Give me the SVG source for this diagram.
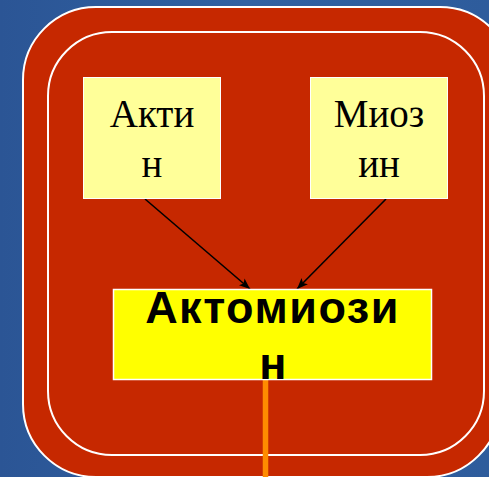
<svg xmlns="http://www.w3.org/2000/svg" width="489" height="477" viewBox="0 0 489 477">
  <defs>
    <linearGradient id="bg" x1="0" y1="0" x2="1" y2="0">
      <stop offset="0" stop-color="#2B5595"/>
      <stop offset="0.5" stop-color="#3061A2"/>
      <stop offset="1" stop-color="#2E5C9C"/>
    </linearGradient>
    <marker id="arrow" viewBox="0 0 11 9" refX="11" refY="4.5" markerWidth="11" markerHeight="9" markerUnits="userSpaceOnUse" orient="auto">
      <path d="M0,0 L11,4.5 L0,9 L2.5,4.5 Z" fill="#000"/>
    </marker>
    <style>
      .frame { fill: #C62800; stroke: #FFFFFF; stroke-width: 2; }
      .ring { fill: none; stroke: #FFFFFF; stroke-width: 2; }
      .src { fill: #FFFF99; stroke: #FFFFFF; stroke-width: 1; }
      .dst { fill: #FFFF00; stroke: #FFFFFF; stroke-width: 1.5; }
      .serif { font-family: "Liberation Serif", "Times New Roman", serif; font-size: 39px; fill: #000; text-anchor: middle; }
      .bold { font-family: "Liberation Sans", Arial, sans-serif; font-size: 45px; font-weight: bold; letter-spacing: 1.5px; fill: #000; text-anchor: middle; }
      .link { stroke: #000; stroke-width: 1.6; fill: none; marker-end: url(#arrow); }
      .stem { stroke: #FF8C00; stroke-width: 5.5; fill: none; }
    </style>
  </defs>

  <!-- background -->
  <rect x="0" y="0" width="489" height="477" fill="url(#bg)"/>

  <!-- red frame (right side runs past the edge) with inner white ring -->
  <path class="frame" d="M96,7 H440 A73,73 0 0 1 513,80 L500,404 A73,73 0 0 1 427,477 H96 A73,73 0 0 1 23,404 V80 A73,73 0 0 1 96,7 Z"/>
  <rect class="ring" x="48" y="32" width="436" height="423" rx="64" ry="64"/>

  <!-- connectors -->
  <g id="connectors">
    <line class="link" x1="145" y1="199" x2="250" y2="289"/>
    <line class="link" x1="386" y1="199" x2="297" y2="289"/>
    <line class="stem" x1="265.5" y1="380" x2="265.5" y2="477"/>
  </g>

  <g id="actin">
    <rect class="src" x="83.5" y="77.5" width="137" height="121"/>
    <text class="serif" x="152" y="127">Акти</text>
    <text class="serif" x="152" y="177">н</text>
  </g>

  <g id="myosin">
    <rect class="src" x="310.5" y="77.5" width="137" height="121"/>
    <text class="serif" x="379" y="127">Миоз</text>
    <text class="serif" x="379" y="177">ин</text>
  </g>

  <g id="actomyosin">
    <rect class="dst" x="113.5" y="289.5" width="318" height="90"/>
    <text class="bold" x="272.5" y="323">Актомиози</text>
    <text class="bold" x="273.5" y="379">н</text>
  </g>
</svg>
